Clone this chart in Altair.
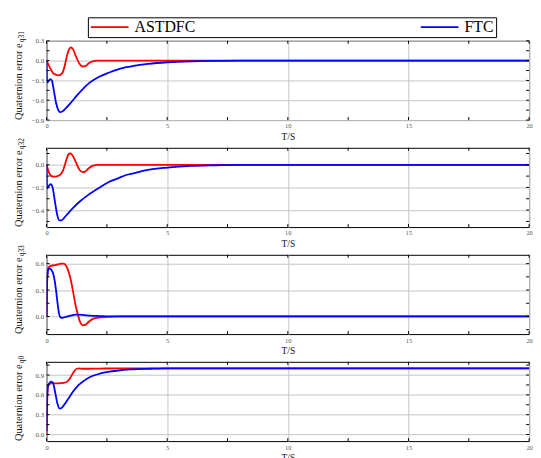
import altair as alt
import pandas as pd

SERIES = ["ASTDFC", "FTC"]
COLORS = ["#ff0000", "#0000ff"]

# ---- panel 1: e_q31 ----
t_a1 = [0, 0.1, 0.2, 0.3, 0.5, 0.65, 0.75, 0.85, 0.95, 1.0, 1.1, 1.2, 1.35, 1.5, 1.6, 1.75, 1.9, 2.1, 3, 20]
v_a1 = [0, -0.08, -0.15, -0.2, -0.225, -0.19, -0.08, 0.08, 0.18, 0.2, 0.17, 0.08, -0.04, -0.09, -0.085, -0.04, -0.01, 0, 0, 0]
t_f1 = [0, 0.02, 0.08, 0.15, 0.22, 0.3, 0.4, 0.5, 0.55, 0.65, 0.8, 1.0, 1.25, 1.5, 1.8, 2.2, 2.6, 2.9, 3.3, 3.6, 4.2, 5, 6, 7, 8, 20]
v_f1 = [0, -0.33, -0.31, -0.28, -0.3, -0.45, -0.65, -0.76, -0.78, -0.77, -0.72, -0.64, -0.53, -0.43, -0.33, -0.24, -0.18, -0.14, -0.10, -0.08, -0.05, -0.025, -0.01, -0.004, 0, 0]

# ---- panel 2: e_q32 ----
t_a2 = [0, 0.1, 0.2, 0.3, 0.45, 0.6, 0.7, 0.8, 0.9, 0.97, 1.05, 1.2, 1.35, 1.5, 1.6, 1.75, 1.9, 2.1, 20]
v_a2 = [0, -0.07, -0.1, -0.105, -0.1, -0.08, -0.04, 0.03, 0.09, 0.1, 0.09, 0.03, -0.04, -0.065, -0.06, -0.03, -0.01, 0, 0]
t_f2 = [0, 0.02, 0.08, 0.17, 0.25, 0.35, 0.45, 0.53, 0.62, 0.8, 1.1, 1.4, 1.7, 2.2, 2.6, 2.9, 3.3, 3.6, 4.2, 5, 6, 7, 8, 20]
v_f2 = [0, -0.21, -0.19, -0.17, -0.2, -0.33, -0.45, -0.49, -0.49, -0.45, -0.38, -0.32, -0.27, -0.2, -0.15, -0.125, -0.09, -0.075, -0.045, -0.025, -0.01, -0.004, 0, 0]

# ---- panel 3: e_q33 ----
t_a3 = [0, 0.03, 0.06, 0.1, 0.2, 0.4, 0.6, 0.7, 0.8, 0.9, 1.0, 1.1, 1.2, 1.3, 1.4, 1.5, 1.6, 1.75, 1.9, 2.1, 2.5, 3, 20]
v_a3 = [0, 0.45, 0.53, 0.56, 0.575, 0.585, 0.6, 0.6, 0.58, 0.52, 0.42, 0.28, 0.13, 0.02, -0.07, -0.1, -0.095, -0.06, -0.03, -0.015, -0.005, 0, 0]
t_f3 = [0, 0.03, 0.08, 0.15, 0.22, 0.28, 0.34, 0.4, 0.46, 0.52, 0.58, 0.65, 0.8, 1.0, 1.2, 1.5, 1.8, 2.2, 2.8, 20]
v_f3 = [0, 0.45, 0.545, 0.54, 0.52, 0.48, 0.4, 0.28, 0.14, 0.03, -0.01, -0.015, -0.005, 0.01, 0.02, 0.018, 0.01, 0.005, 0, 0]

# ---- panel 4: e_q0 ----
t_a4 = [0, 0.02, 0.05, 0.1, 0.2, 0.5, 0.7, 0.85, 0.95, 1.05, 1.15, 1.25, 1.35, 1.5, 1.8, 2.2, 3, 20]
v_a4 = [0, 0.4, 0.7, 0.76, 0.775, 0.775, 0.78, 0.8, 0.84, 0.9, 0.96, 0.995, 1.0, 0.995, 0.995, 0.998, 1.0, 1.0]
t_f4 = [0, 0.02, 0.05, 0.1, 0.2, 0.27, 0.35, 0.45, 0.55, 0.62, 0.75, 0.9, 1.1, 1.3, 1.5, 1.8, 2.2, 2.6, 2.9, 3.5, 4.3, 5, 20]
v_f4 = [0.05, 0.5, 0.72, 0.77, 0.8, 0.78, 0.65, 0.47, 0.39, 0.4, 0.46, 0.54, 0.65, 0.74, 0.8, 0.87, 0.92, 0.95, 0.965, 0.985, 0.995, 1.0, 1.0]

panels = [
    dict(ta=t_a1, va=v_a1, tf=t_f1, vf=v_f1, dom=[-0.9, 0.3], major=[-0.9, -0.6, -0.3, 0.0, 0.3],
         minor=[-0.75, -0.45, -0.15, 0.15], sub="q31"),
    dict(ta=t_a2, va=v_a2, tf=t_f2, vf=v_f2, dom=[-0.55, 0.15], major=[-0.4, -0.2, 0.0],
         minor=[-0.5, -0.3, -0.1, 0.1], sub="q32"),
    dict(ta=t_a3, va=v_a3, tf=t_f3, vf=v_f3, dom=[-0.2, 0.7], major=[0.0, 0.3, 0.6],
         minor=[-0.15, 0.15, 0.45], sub="q33"),
    dict(ta=t_a4, va=v_a4, tf=t_f4, vf=v_f4, dom=[-0.1, 1.1], major=[0.0, 0.3, 0.6, 0.9],
         minor=[0.15, 0.45, 0.75, 1.05], sub="q0"),
]

x_major = [0, 5, 10, 15, 20]
x_ticks = [0, 2.5, 5, 7.5, 10, 12.5, 15, 17.5, 20]

W, H = 487, 80
SERIF = "Liberation Serif"
TL = 3


def panel(p, first):
    rows = [{"t": t, "v": v, "s": SERIES[0]} for t, v in zip(p["ta"], p["va"])]
    rows += [{"t": t, "v": v, "s": SERIES[1]} for t, v in zip(p["tf"], p["vf"])]
    df = pd.DataFrame(rows)
    xs = alt.Scale(domain=[0, 20], nice=False, zero=False)
    ys = alt.Scale(domain=p["dom"], nice=False, zero=False)
    ax_x = alt.Axis(values=x_major, format="d", title="T/S")
    ax_y = alt.Axis(values=p["major"], format=".1f", title=None)
    if first:
        leg = alt.Legend(orient="none", legendX=41.7, legendY=-23.7, direction="horizontal",
                         title=None, symbolType="stroke", symbolSize=1444, symbolStrokeWidth=1.8,
                         labelFont=SERIF, labelFontSize=16, labelColor="black", labelOffset=5,
                         strokeColor="black", fillColor="white", padding=2, columnPadding=226,
                         clipHeight=16, labelLimit=200)
    else:
        leg = None
    lines = alt.Chart(df).mark_line(strokeWidth=1.8, interpolate="monotone", clip=True).encode(
        x=alt.X("t:Q", scale=xs, axis=ax_x),
        y=alt.Y("v:Q", scale=ys, axis=ax_y),
        color=alt.Color("s:N", scale=alt.Scale(domain=SERIES, range=COLORS), legend=leg),
    )
    xt = pd.DataFrame({"t": x_ticks})
    yt = pd.DataFrame({"v": p["major"] + p["minor"]})
    bot = alt.Chart(xt).mark_rule(color="black", strokeWidth=1).encode(
        x=alt.X("t:Q", scale=xs, axis=ax_x), y=alt.value(H), y2=alt.value(H - TL))
    top = alt.Chart(xt).mark_rule(color="black", strokeWidth=1).encode(
        x=alt.X("t:Q", scale=xs, axis=ax_x), y=alt.value(0), y2=alt.value(TL))
    lft = alt.Chart(yt).mark_rule(color="black", strokeWidth=1).encode(
        y=alt.Y("v:Q", scale=ys, axis=ax_y), x=alt.value(0), x2=alt.value(TL))
    rgt = alt.Chart(yt).mark_rule(color="black", strokeWidth=1).encode(
        y=alt.Y("v:Q", scale=ys, axis=ax_y), x=alt.value(W - TL), x2=alt.value(W))
    one = pd.DataFrame({"k": [0]})
    ttl = alt.Chart(one).mark_text(font=SERIF, fontSize=10.5, angle=270, align="left",
                                   baseline="alphabetic", color="#111").encode(
        x=alt.value(-25.3), y=alt.value(80), text=alt.value("Quaternion error e"))
    sub = alt.Chart(one).mark_text(font=SERIF, fontSize=7.5, angle=270, align="left",
                                   baseline="alphabetic", color="#111").encode(
        x=alt.value(-22.6), y=alt.value(1.5), text=alt.value(p["sub"]))
    return alt.layer(lines, bot, top, lft, rgt, ttl, sub).properties(width=W, height=H)


charts = [panel(p, i == 0) for i, p in enumerate(panels)]
chart = alt.vconcat(*charts, spacing=28, bounds="flush").resolve_scale(
    color="independent").properties(
    padding={"left": 13, "top": 14, "right": 8, "bottom": 5}, background="white"
).configure_view(stroke="black", strokeWidth=1).configure_axis(
    grid=True, gridColor="#c4c4c4", ticks=False, domain=False, labelOverlap=False,
    labelBound=False, labelFlush=False, labelFont=SERIF, labelColor="#555", labelPadding=3,
    titleFont=SERIF, titleFontWeight="normal", titleColor="#111", titlePadding=2
).configure_axisX(labelFontSize=6.5, titleFontSize=9.5).configure_axisY(labelFontSize=7)

chart.save("out.html", embed_options={"renderer": "svg", "actions": False})
